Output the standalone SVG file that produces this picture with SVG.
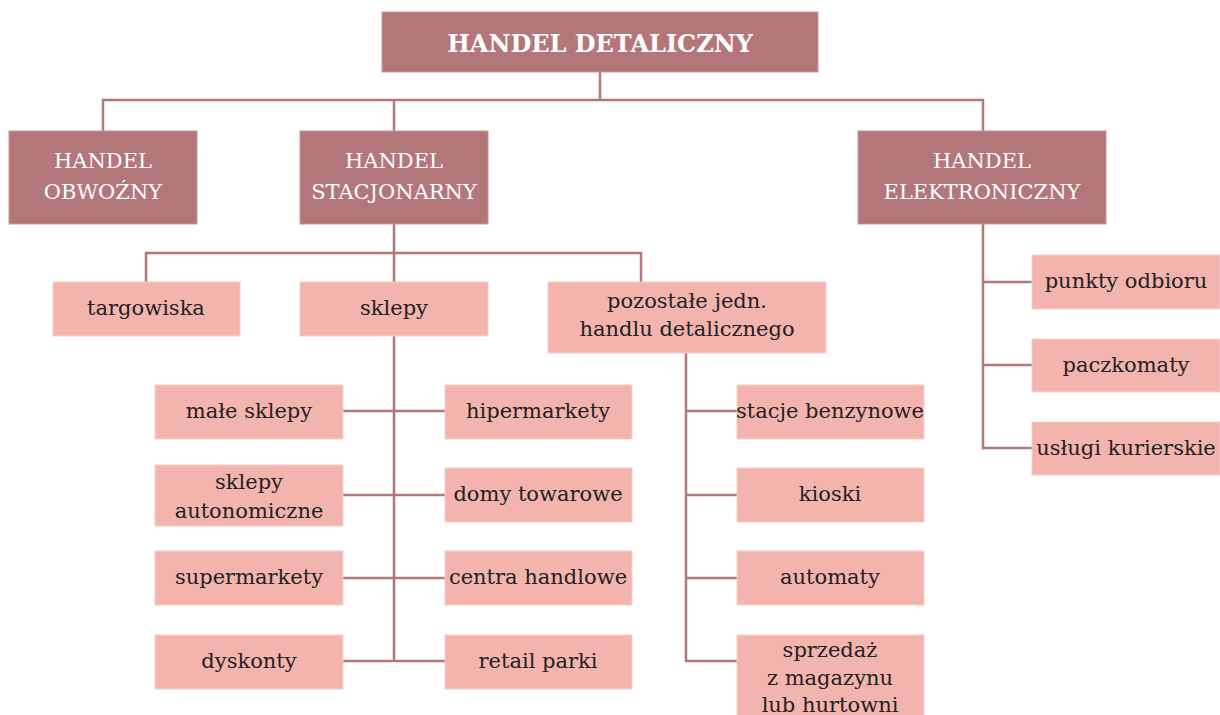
<svg xmlns="http://www.w3.org/2000/svg" width="1220" height="715" viewBox="0 0 1220 715">
<style>
.dk{fill:#b47779;stroke:#c99598;stroke-width:1}
.lt{fill:#f4b4ae;stroke:#f8cdc8;stroke-width:1}
.tw{font-family:"DejaVu Serif","Liberation Serif",serif;font-size:21px;fill:#ffffff;text-anchor:middle}
.tb{font-family:"DejaVu Serif","Liberation Serif",serif;font-size:21px;fill:#222222;text-anchor:middle}
.title{font-family:"DejaVu Serif","Liberation Serif",serif;font-size:24px;font-weight:bold;fill:#ffffff;text-anchor:middle}
.ln{fill:none;stroke:#b47779;stroke-width:2.5}
</style>
<rect width="1220" height="715" fill="#ffffff"/>
<g id="connectors">
<path class="ln" d="M600,72 V100 M103,131 V100 H983 V131 M394,100 V131"/>
<path class="ln" d="M394,224 V282 M146,282 V253 H641 V282"/>
<path class="ln" d="M394,336 V661 M343,411 H445 M343,495 H445 M343,578 H445 M343,661 H445"/>
<path class="ln" d="M686,353 V661 H737 M686,411 H737 M686,495 H737 M686,578 H737"/>
<path class="ln" d="M983,224 V448 H1032 M983,282 H1032 M983,365 H1032"/>
</g>
<g id="n-root"><rect class="dk" x="382" y="12" width="436" height="60"/><text class="title" x="600" y="52">HANDEL DETALICZNY</text></g>
<g id="n-obwozny"><rect class="dk" x="9" y="131" width="188" height="93"/><text class="tw" x="103" y="168">HANDEL</text><text class="tw" x="103" y="199">OBWOŹNY</text></g>
<g id="n-stacjonarny"><rect class="dk" x="300" y="131" width="188" height="93"/><text class="tw" x="394" y="168">HANDEL</text><text class="tw" x="394" y="199">STACJONARNY</text></g>
<g id="n-elektroniczny"><rect class="dk" x="858" y="131" width="248" height="93"/><text class="tw" x="982" y="168">HANDEL</text><text class="tw" x="982" y="199">ELEKTRONICZNY</text></g>
<g id="n-targowiska"><rect class="lt" x="53" y="282" width="187" height="54"/><text class="tb" x="146" y="315">targowiska</text></g>
<g id="n-sklepy"><rect class="lt" x="300" y="282" width="188" height="54"/><text class="tb" x="394" y="315">sklepy</text></g>
<g id="n-pozostale"><rect class="lt" x="548" y="282" width="278" height="71"/><text class="tb" x="687" y="308">pozostałe jedn.</text><text class="tb" x="687" y="336">handlu detalicznego</text></g>
<g id="n-male"><rect class="lt" x="155" y="385" width="188" height="54"/><text class="tb" x="249" y="418">małe sklepy</text></g>
<g id="n-autonomiczne"><rect class="lt" x="155" y="465" width="188" height="61"/><text class="tb" x="249" y="489">sklepy</text><text class="tb" x="249" y="518">autonomiczne</text></g>
<g id="n-supermarkety"><rect class="lt" x="155" y="551" width="188" height="54"/><text class="tb" x="249" y="584">supermarkety</text></g>
<g id="n-dyskonty"><rect class="lt" x="155" y="635" width="188" height="54"/><text class="tb" x="249" y="668">dyskonty</text></g>
<g id="n-hipermarkety"><rect class="lt" x="445" y="385" width="187" height="54"/><text class="tb" x="538" y="418">hipermarkety</text></g>
<g id="n-domy"><rect class="lt" x="445" y="468" width="187" height="54"/><text class="tb" x="538" y="501">domy towarowe</text></g>
<g id="n-centra"><rect class="lt" x="445" y="551" width="187" height="54"/><text class="tb" x="538" y="584">centra handlowe</text></g>
<g id="n-retail"><rect class="lt" x="445" y="635" width="187" height="54"/><text class="tb" x="538" y="668">retail parki</text></g>
<g id="n-stacje"><rect class="lt" x="737" y="385" width="187" height="54"/><text class="tb" x="830" y="418">stacje benzynowe</text></g>
<g id="n-kioski"><rect class="lt" x="737" y="468" width="187" height="54"/><text class="tb" x="830" y="501">kioski</text></g>
<g id="n-automaty"><rect class="lt" x="737" y="551" width="187" height="54"/><text class="tb" x="830" y="584">automaty</text></g>
<g id="n-sprzedaz"><rect class="lt" x="737" y="635" width="187" height="85"/><text class="tb" x="830" y="657">sprzedaż</text><text class="tb" x="830" y="685">z magazynu</text><text class="tb" x="830" y="712">lub hurtowni</text></g>
<g id="n-punkty"><rect class="lt" x="1032" y="255" width="188" height="54"/><text class="tb" x="1126" y="288">punkty odbioru</text></g>
<g id="n-paczkomaty"><rect class="lt" x="1032" y="339" width="188" height="53"/><text class="tb" x="1126" y="372">paczkomaty</text></g>
<g id="n-uslugi"><rect class="lt" x="1032" y="422" width="188" height="53"/><text class="tb" x="1126" y="455">usługi kurierskie</text></g>
</svg>
